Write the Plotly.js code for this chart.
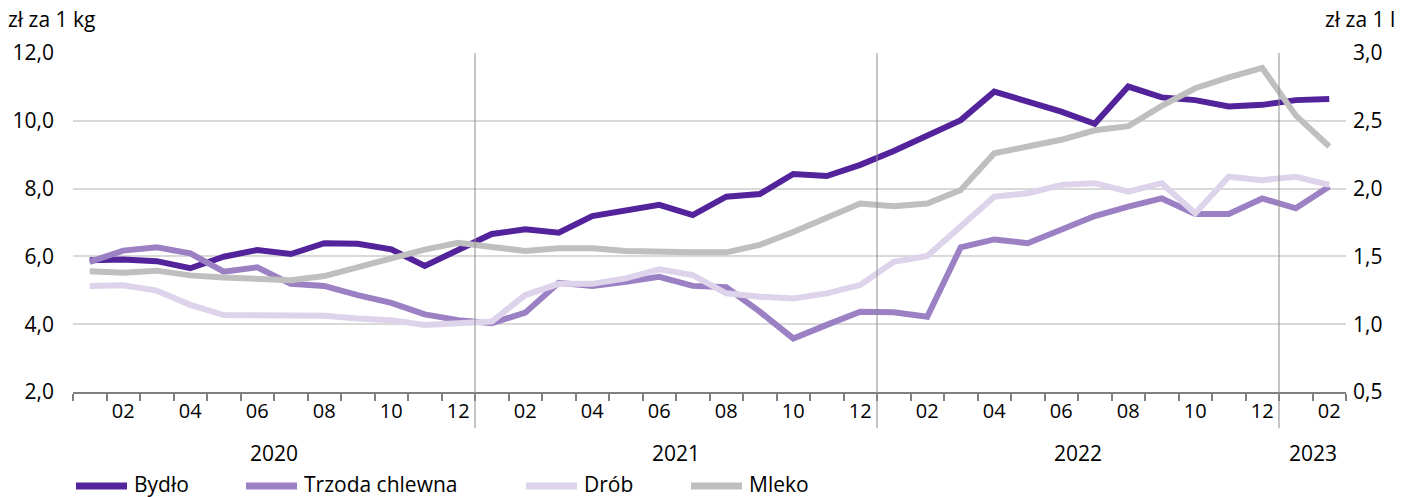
<!DOCTYPE html>
<html>
<head>
<meta charset="utf-8">
<script src="https://cdn.plot.ly/plotly-3.0.1.min.js"></script>
<style>
html,body{margin:0;padding:0;background:#fff;}
#chart{width:1402px;height:497px;}
</style>
</head>
<body>
<div id="chart"></div>
<script>
// Months Jan 2020 .. Feb 2023
const categories = [
  "2020-01","2020-02","2020-03","2020-04","2020-05","2020-06","2020-07","2020-08","2020-09","2020-10","2020-11","2020-12",
  "2021-01","2021-02","2021-03","2021-04","2021-05","2021-06","2021-07","2021-08","2021-09","2021-10","2021-11","2021-12",
  "2022-01","2022-02","2022-03","2022-04","2022-05","2022-06","2022-07","2022-08","2022-09","2022-10","2022-11","2022-12",
  "2023-01","2023-02"
];
const monthLabels = ["","02","","04","","06","","08","","10","","12",
                     "","02","","04","","06","","08","","10","","12",
                     "","02","","04","","06","","08","","10","","12",
                     "","02"];
const yearLabels = ["2020","2021","2022","2023"];
const yearCenters = [5.5, 17.5, 29.5, 36.5];
const yearBreaks = [11.5, 23.5, 35.5];

const seriesNames = ["Bydło","Trzoda chlewna","Drób","Mleko"];
const seriesColors = ["#52239b","#9b80c3","#ddd3eb","#bfbfbf"];

// zł za 1 kg
const bydlo = [5.89,5.91,5.86,5.65,5.99,6.19,6.07,6.39,6.37,6.21,5.72,6.20,
               6.66,6.80,6.70,7.19,7.35,7.52,7.22,7.76,7.84,8.43,8.37,8.70,
               9.11,9.58,10.02,10.86,10.56,10.27,9.91,11.01,10.69,10.61,10.42,10.47,
               10.61,10.64];
const trzoda = [5.84,6.17,6.27,6.09,5.55,5.68,5.19,5.13,4.86,4.63,4.29,4.12,
                4.03,4.34,5.22,5.13,5.25,5.40,5.13,5.09,4.37,3.58,3.98,4.37,
                4.35,4.22,6.27,6.50,6.39,6.78,7.19,7.47,7.71,7.25,7.25,7.71,
                7.42,8.06];
const drob = [5.13,5.15,4.99,4.57,4.27,4.27,4.26,4.25,4.17,4.12,3.98,4.03,
              4.08,4.86,5.19,5.19,5.35,5.62,5.45,4.91,4.81,4.76,4.91,5.16,
              5.84,6.01,6.88,7.76,7.86,8.11,8.16,7.91,8.16,7.27,8.35,8.25,
              8.35,8.11];
// zł za 1 l
const mleko = [1.39,1.38,1.395,1.36,1.345,1.34,1.325,1.355,1.425,1.485,1.55,1.60,
               1.57,1.54,1.56,1.56,1.54,1.53,1.53,1.53,1.585,1.68,1.79,1.89,
               1.87,1.89,1.99,2.26,2.31,2.36,2.43,2.46,2.61,2.74,2.82,2.89,
               2.54,2.31];

const FONT = "'Open Sans', Roboto, sans-serif";
const FS = 21;

const values = [bydlo, trzoda, drob, mleko];
const traces = values.map((v,i) => ({
  name:seriesNames[i], x:categories, y:v, type:"scatter", mode:"lines",
  yaxis: i===3 ? "y2" : "y",
  line:{color:seriesColors[i], width:6}
}));

const shapes = yearBreaks.map(v => ({
  type:"line", xref:"x", yref:"paper", x0:v, x1:v, y0:-0.107, y1:1,
  line:{color:"#8c8c8c", width:1}
}));

const annotations = yearLabels.map((t,i) => ({
  text:t, xref:"x", yref:"paper", x:yearCenters[i], y:-0.18,
  xanchor:"center", yanchor:"middle", showarrow:false,
  font:{family:FONT, size:FS, color:"#000"}
}));
annotations.push({text:"zł za 1 kg", xref:"paper", yref:"paper", x:-0.051, y:1.1,
  xanchor:"left", yanchor:"middle", showarrow:false, font:{family:FONT, size:FS, color:"#000"}, xshift:-2});
annotations.push({text:"zł za 1 l", xref:"paper", yref:"paper", x:1.0, y:1.1,
  xanchor:"right", yanchor:"middle", showarrow:false, font:{family:FONT, size:FS, color:"#000"}, xshift:51});

// custom legend (line swatch + label), positions in pixels of the figure
const legendX = [73, 243, 523, 688];
const legendY = 484;
const W = 1402, H = 497, ML = 73, MR = 56, MT = 53, MB = 105;
const pw = W - ML - MR, ph = H - MT - MB;
const px = x => (x - ML) / pw;
const py = y => (H - MB - y) / ph;
seriesNames.forEach((n,i) => {
  shapes.push({type:"line", xref:"paper", yref:"paper",
    x0:px(legendX[i]+3), x1:px(legendX[i]+54), y0:py(legendY+2), y1:py(legendY+2),
    line:{color:seriesColors[i], width:7}});
  annotations.push({text:n, xref:"paper", yref:"paper", x:px(legendX[i]+59), y:py(legendY),
    xanchor:"left", yanchor:"middle", showarrow:false,
    font:{family:FONT, size:FS, color:"#000"}});
});

const layout = {
  width:W, height:H,
  margin:{l:ML, r:MR, t:MT, b:MB},
  paper_bgcolor:"#fff", plot_bgcolor:"#fff",
  separators:", ",
  font:{family:FONT, size:FS, color:"#000"},
  showlegend:false,
  xaxis:{type:"category", categoryorder:"array", categoryarray:categories,
         range:[-0.5, categories.length-0.5], automargin:false,
         tickmode:"array", tickvals:categories, ticktext:monthLabels,
         tickson:"boundaries", ticks:"outside", ticklen:7, tickwidth:2, tickcolor:"#808080",
         showline:true, linecolor:"#808080", linewidth:2, showgrid:false, zeroline:false,
         tickangle:0, tickfont:{family:FONT, size:20, color:"#000"}},
  yaxis:{range:[2,12], tickmode:"linear", tick0:2, dtick:2, tickformat:".1f", automargin:false,
         showgrid:true, gridcolor:"#d9d9d9", gridwidth:2, zeroline:false, showline:false,
         ticks:"", ticklabelstandoff:18, tickfont:{family:FONT, size:FS, color:"#000"}},
  yaxis2:{range:[0.5,3.0], tickmode:"linear", tick0:0.5, dtick:0.5, tickformat:".1f", automargin:false,
          overlaying:"y", side:"right", showgrid:false, zeroline:false, showline:false,
          ticks:"", ticklabelstandoff:6, tickfont:{family:FONT, size:FS, color:"#000"}},
  shapes:shapes,
  annotations:annotations
};

Plotly.newPlot("chart", traces, layout, {displayModeBar:false, staticPlot:true});
</script>
</body>
</html>
